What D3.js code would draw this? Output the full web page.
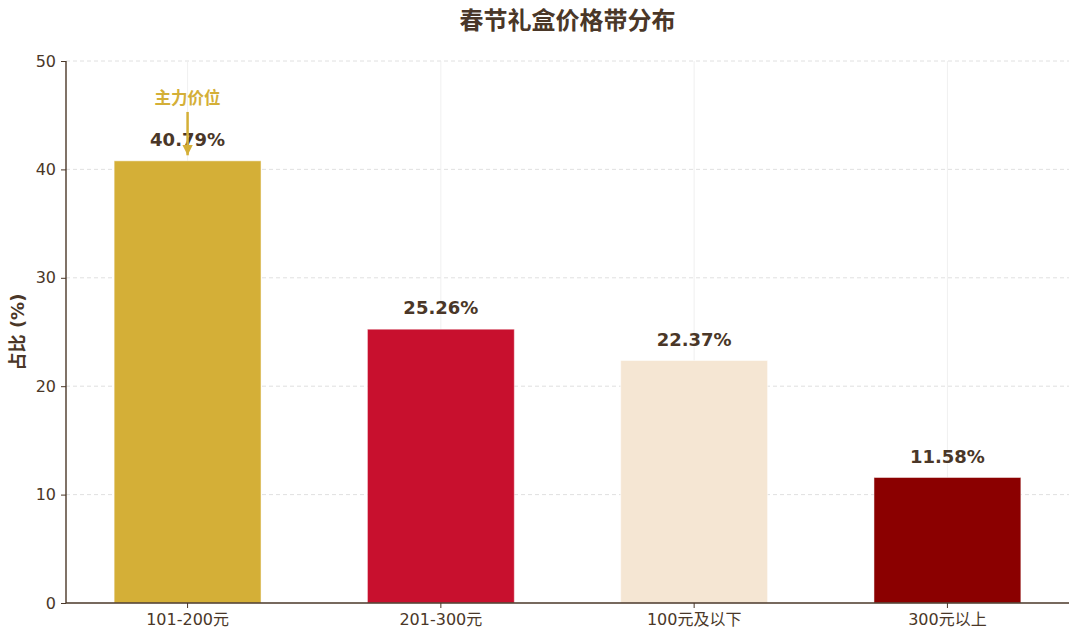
<!DOCTYPE html>
<html>
<head>
<meta charset="utf-8">
<script src="https://cdn.jsdelivr.net/npm/d3@7"></script>
<style>
  body { margin: 0; background: #fff; }
  svg text { font-family: 'DejaVu Sans', 'Noto Sans CJK SC', sans-serif; }
</style>
</head>
<body>
<svg id="chart"></svg>
<script>
// chart data
const categories = ['101-200元', '201-300元', '100元及以下', '300元以上'];
const shares = [40.79, 25.26, 22.37, 11.58];
const barColors = ['#D4AF37', '#C8102E', '#F5E6D3', '#8B0000'];
const yTicks = [0, 10, 20, 30, 40, 50];
const titleText = '春节礼盒价格带分布';
const yLabel = '占比 (%)';
const noteText = '主力价位';

const width = 1080;
const height = 642;
const margin = { top: 61, right: 11, bottom: 39, left: 66 };
const ink = '#4A3728';

const svg = d3.select('#chart').attr('width', width).attr('height', height);

const x = d3.scaleBand()
  .domain(categories)
  .range([margin.left, width - margin.right])
  .paddingInner(0.42)
  .paddingOuter(0.19);

const y = d3.scaleLinear()
  .domain([0, 50])
  .range([height - margin.bottom, margin.top]);

// grid lines
svg.append('g')
  .selectAll('line')
  .data(yTicks.slice(1))
  .join('line')
  .attr('x1', margin.left).attr('x2', width - margin.right)
  .attr('y1', d => y(d)).attr('y2', d => y(d))
  .attr('stroke', '#dcdcdc')
  .attr('stroke-dasharray', '4,3')
  .attr('stroke-width', 0.9);

svg.append('g')
  .selectAll('line')
  .data(categories)
  .join('line')
  .attr('x1', d => x(d) + x.bandwidth() / 2).attr('x2', d => x(d) + x.bandwidth() / 2)
  .attr('y1', y(0)).attr('y2', y(50))
  .attr('stroke', '#eeeeee')
  .attr('stroke-width', 0.9);

// bars
svg.append('g')
  .selectAll('rect')
  .data(categories)
  .join('rect')
  .attr('x', d => x(d))
  .attr('y', (d, i) => y(shares[i]))
  .attr('width', x.bandwidth())
  .attr('height', (d, i) => y(0) - y(shares[i]))
  .attr('fill', (d, i) => barColors[i])
  .attr('stroke', '#ffffff')
  .attr('stroke-opacity', 0.5)
  .attr('stroke-width', 1);

// value labels
svg.append('g')
  .selectAll('text')
  .data(categories)
  .join('text')
  .attr('x', d => x(d) + x.bandwidth() / 2)
  .attr('y', (d, i) => y(shares[i] + 1) - 4)
  .attr('text-anchor', 'middle')
  .attr('font-size', 18)
  .attr('font-weight', 'bold')
  .attr('fill', ink)
  .text((d, i) => shares[i].toFixed(2) + '%');

// axes
const yAxis = svg.append('g')
  .attr('transform', `translate(${margin.left},0)`)
  .call(d3.axisLeft(y).tickValues(yTicks).tickSize(5).tickPadding(5));

const xAxis = svg.append('g')
  .attr('transform', `translate(0,${y(0)})`)
  .call(d3.axisBottom(x).tickSize(5).tickPadding(6));

[yAxis, xAxis].forEach(g => {
  g.select('.domain').attr('stroke', ink).attr('stroke-width', 1.4);
  g.selectAll('.tick line').attr('stroke', ink);
  g.selectAll('.tick text')
    .attr('fill', ink)
    .attr('font-size', 16)
    .attr('font-family', "'DejaVu Sans', 'Noto Sans CJK SC', sans-serif");
});
xAxis.select('.domain').attr('d', `M${margin.left},0H${width - margin.right}`);
yAxis.select('.domain').attr('d', `M0,${y(0)}V${y(50)}`);

// annotation for the main price band
const cx = x(categories[0]) + x.bandwidth() / 2;
svg.append('defs').append('marker')
  .attr('id', 'head')
  .attr('viewBox', '0 0 10 10')
  .attr('refX', 10).attr('refY', 5)
  .attr('markerWidth', 4.2).attr('markerHeight', 4.2)
  .attr('orient', 'auto')
  .append('path')
  .attr('d', 'M0,0L10,5L0,10Z')
  .attr('fill', barColors[0]);

svg.append('line')
  .attr('x1', cx).attr('x2', cx)
  .attr('y1', y(45.3)).attr('y2', y(41.3))
  .attr('stroke', barColors[0])
  .attr('stroke-width', 2.5)
  .attr('marker-end', 'url(#head)');

svg.append('text')
  .attr('x', cx)
  .attr('y', y(46.6))
  .attr('dy', '0.35em')
  .attr('text-anchor', 'middle')
  .attr('font-size', 16.5)
  .attr('font-weight', 'bold')
  .attr('fill', barColors[0])
  .text(noteText);

// title and y label
svg.append('text')
  .attr('x', (margin.left + width - margin.right) / 2)
  .attr('y', 29)
  .attr('text-anchor', 'middle')
  .attr('font-size', 24)
  .attr('font-weight', 'bold')
  .attr('fill', ink)
  .text(titleText);

svg.append('text')
  .attr('transform', `translate(24,${(y(0) + y(50)) / 2}) rotate(-90)`)
  .attr('text-anchor', 'middle')
  .attr('font-size', 18)
  .attr('font-weight', 'bold')
  .attr('fill', ink)
  .text(yLabel);
</script>
</body>
</html>
